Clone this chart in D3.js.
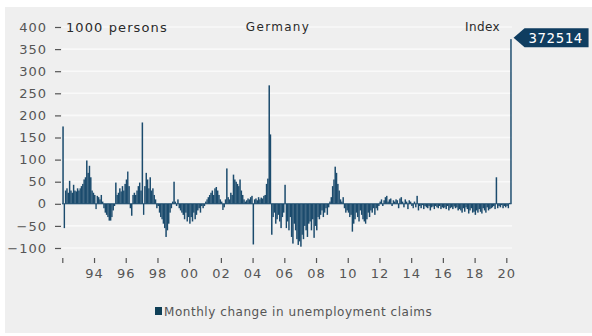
<!DOCTYPE html>
<html>
<head>
<meta charset="utf-8">
<script src="https://cdn.jsdelivr.net/npm/d3@7"></script>
<style>
  html, body { margin: 0; padding: 0; background: #ffffff; }
  svg { display: block; }
  text { font-family: "DejaVu Sans", sans-serif; }
</style>
</head>
<body>
<svg id="chart" width="592" height="336"></svg>
<script>
// Labels
const chartTitle = "Germany";
const unitLabel = "1000 persons";
const indexLabel = "Index";
const seriesName = "Monthly change in unemployment claims";
const lastValueLabel = "372514";

// Series starts January 1992, one value per month (thousands of persons)
const startYear = 1992;
const monthlyChange = [
  /* 1992 */ 175, -55, 30, 35, 25, 52, 30, 25, 43, 30, 28, 35,
  /* 1993 */ 30, 35, 40, 45, 55, 60, 98, 70, 86, 60, 30, 25,
  /* 1994 */ 20, -12, 18, 15, 10, 20, 5, -10, -20, -25, -30, -38,
  /* 1995 */ -38, -30, -15, -5, 48, 20, 25, 35, 28, 40, 30, 45,
  /* 1996 */ 55, 73, 40, -10, -27, 20, 25, 20, 30, 40, 48, 30,
  /* 1997 */ 184, -25, 40, 70, 55, 35, 60, 30, 35, 20, 10, -10,
  /* 1998 */ -5, -20, -30, -35, -45, -55, -75, -60, -45, -20, -10, 5,
  /* 1999 */ 50, 5, -5, 10, -10, -15, -20, -25, -35, -20, -40, -30,
  /* 2000 */ -45, -30, -40, -20, -35, -25, -15, -10, -20, -5, -10, -5,
  /* 2001 */ 5, 10, 15, 20, 25, 30, 20, 35, 38, 30, 20, 10,
  /* 2002 */ 5, -14, -8, 10, 80, 15, 10, 25, 20, 66, 55, 50,
  /* 2003 */ 45, 40, 55, 30, 20, 10, 5, 8, 12, 10, 15, 18,
  /* 2004 */ -92, 10, 12, 8, 15, 10, 14, 12, 18, 20, 45, 57,
  /* 2005 */ 268, 157, -70, -30, -20, -45, -35, -25, -40, -55, -30, -20,
  /* 2006 */ 43, -55, -40, -60, -30, -75, -90, -45, -60, -80, -93, -85,
  /* 2007 */ -97, -70, -80, -50, -60, -75, -45, -40, -60, -35, -77, -50,
  /* 2008 */ -60, -30, -35, -25, -15, -30, -20, -10, -25, -8, 5, 15,
  /* 2009 */ 40, 55, 84, 70, 45, 30, 10, 5, 15, -10, -20, -15,
  /* 2010 */ -20, -30, -25, -63, -45, -35, -20, -30, -40, -15, -25, -35,
  /* 2011 */ -40, -45, -35, -20, -30, -15, -20, -10, -25, -10, -15, -5,
  /* 2012 */ 5, 10, -5, 8, 15, 18, 5, 10, 12, -5, 8, 5,
  /* 2013 */ 10, 8, -10, 12, 15, 5, -8, 10, 5, -12, 8, 5,
  /* 2014 */ -5, -10, 5, -8, 18, -15, -5, -10, -3, -12, -5, -8,
  /* 2015 */ -10, -5, -15, -8, -6, -12, -5, -8, -10, -5, -12, -8,
  /* 2016 */ -10, -8, -12, -5, -15, -10, -8, -12, -6, -10, -8, -15,
  /* 2017 */ -12, -15, -20, -10, -18, -8, -12, -22, -15, -10, -20, -18,
  /* 2018 */ -25, -15, -20, -12, -18, -22, -10, -15, -20, -8, -15, -12,
  /* 2019 */ -10, -8, -5, -12, 60, -10, -5, -8, -3, -10, -5, -8,
  /* 2020 */ -5, -10, 2, 372.514
];

const yTicks = [-100, -50, 0, 50, 100, 150, 200, 250, 300, 350, 400];
const xTickYears = [1992, 1994, 1996, 1998, 2000, 2002, 2004, 2006, 2008, 2010, 2012, 2014, 2016, 2018, 2020];

// Colours
const panelFill = "#efefef";
const gridColor = "#f9f9f9";
const barColor = "#1b4b6d";
const tagColor = "#0f3d60";
const textColor = "#555555";

const svg = d3.select("#chart");

// Grey panel
svg.append("rect")
  .attr("x", 5).attr("y", 7)
  .attr("width", 587).attr("height", 326)
  .attr("fill", panelFill);

const x = d3.scaleTime()
  .domain([new Date(1992, 0, 1), new Date(2020, 0, 1)])
  .range([62.3, 506.3]);

const y = d3.scaleLinear()
  .domain([-100, 400])
  .range([248, 27]);

const plotRight = 512;

// Horizontal grid
svg.append("g")
  .selectAll("line")
  .data(yTicks)
  .join("line")
  .attr("x1", 62).attr("x2", plotRight)
  .attr("y1", d => y(d)).attr("y2", d => y(d))
  .attr("stroke", gridColor)
  .attr("stroke-width", 1.6);

// Month records
const data = monthlyChange.map((v, i) => ({
  date: new Date(startYear + Math.floor(i / 12), i % 12, 1),
  next: new Date(startYear + Math.floor((i + 1) / 12), (i + 1) % 12, 1),
  value: v
}));

// Bars
svg.append("g")
  .selectAll("rect")
  .data(data)
  .join("rect")
  .attr("x", d => x(d.date))
  .attr("width", d => x(d.next) - x(d.date) + 0.15)
  .attr("y", d => y(Math.max(0, d.value)))
  .attr("height", d => Math.abs(y(d.value) - y(0)))
  .attr("fill", barColor);

// Zero baseline
svg.append("line")
  .attr("x1", 62).attr("x2", x(data[data.length - 1].next))
  .attr("y1", y(0)).attr("y2", y(0))
  .attr("stroke", barColor)
  .attr("stroke-width", 1);

// Y axis
const yAxis = svg.append("g")
  .attr("transform", "translate(61,0)")
  .call(d3.axisLeft(y).tickValues(yTicks).tickSize(6).tickPadding(8));
yAxis.select(".domain").remove();
yAxis.selectAll(".tick line").attr("stroke", textColor).attr("stroke-width", 1.2);
yAxis.selectAll(".tick text")
  .attr("fill", textColor)
  .style("font-size", "13px")
  .style("letter-spacing", "1px")
  .style("font-family", "'DejaVu Sans', sans-serif");

// X axis
const xAxis = svg.append("g")
  .attr("transform", "translate(0,258)")
  .call(d3.axisBottom(x)
    .tickValues(xTickYears.map(yr => new Date(yr, 0, 1)))
    .tickSize(5)
    .tickPadding(6)
    .tickFormat(d => d.getFullYear() === startYear ? "" : String(d.getFullYear() % 100).padStart(2, "0")));
xAxis.select(".domain").remove();
xAxis.selectAll(".tick line").attr("stroke", textColor).attr("stroke-width", 1.2);
xAxis.selectAll(".tick text")
  .attr("fill", textColor)
  .style("font-size", "13px")
  .style("letter-spacing", "1px")
  .style("font-family", "'DejaVu Sans', sans-serif");

// Header labels
svg.append("text")
  .attr("x", 66).attr("y", 27)
  .attr("dominant-baseline", "central")
  .attr("fill", "#2a2a2a")
  .style("font-size", "13px")
  .style("letter-spacing", "1.1px")
  .text(unitLabel);

svg.append("text")
  .attr("x", 278).attr("y", 27)
  .attr("text-anchor", "middle")
  .attr("dominant-baseline", "central")
  .attr("fill", "#2a2a2a")
  .style("font-size", "12px")
  .style("letter-spacing", "1.3px")
  .text(chartTitle);

svg.append("text")
  .attr("x", 500).attr("y", 27)
  .attr("text-anchor", "end")
  .attr("dominant-baseline", "central")
  .attr("fill", "#2a2a2a")
  .style("font-size", "12px")
  .style("letter-spacing", "0.4px")
  .text(indexLabel);

// Value tag for the latest month
const last = data[data.length - 1];
const tagY = y(last.value) - 1.5;
const tipX = x(last.next) + 2;
svg.append("path")
  .attr("d", `M${tipX},${tagY} L${tipX + 11},${tagY - 9.5} L${tipX + 75},${tagY - 9.5} L${tipX + 75},${tagY + 9.5} L${tipX + 11},${tagY + 9.5} Z`)
  .attr("fill", tagColor);
svg.append("text")
  .attr("x", tipX + 15).attr("y", tagY + 0.5)
  .attr("dominant-baseline", "central")
  .attr("fill", "#ffffff")
  .style("font-family", "'DejaVu Sans Mono', monospace")
  .style("font-size", "14px")
  .style("letter-spacing", "0.6px")
  .text(lastValueLabel);

// Legend
svg.append("rect")
  .attr("x", 155).attr("y", 307)
  .attr("width", 7).attr("height", 8)
  .attr("fill", "#0f3f57");
svg.append("text")
  .attr("x", 164).attr("y", 311.5)
  .attr("dominant-baseline", "central")
  .attr("fill", textColor)
  .style("font-size", "12px")
  .style("letter-spacing", "0.55px")
  .text(seriesName);
</script>
</body>
</html>
